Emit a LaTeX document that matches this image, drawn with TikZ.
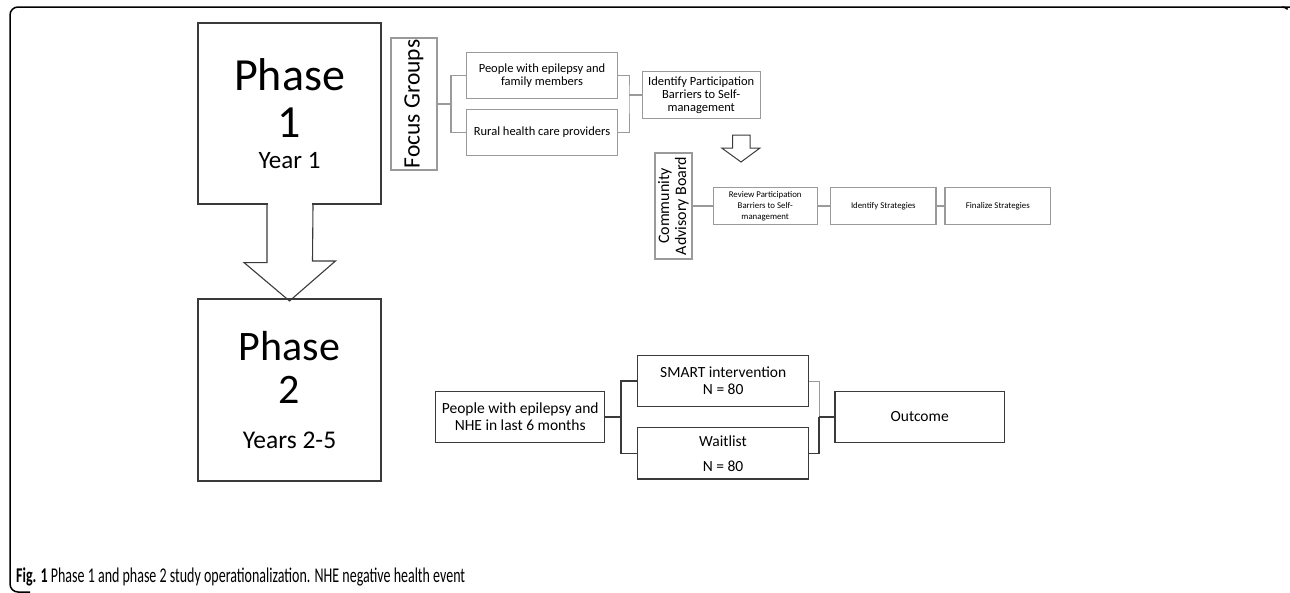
\documentclass[tikz,border=0pt]{standalone}
\usepackage{fontspec}
\setmainfont{Carlito}
\usepackage{tikz}
\usepackage{graphicx}
\usetikzlibrary{arrows}

\definecolor{lightline}{HTML}{9A9A9A}
\definecolor{darkline}{HTML}{3A3A3A}

\begin{document}
\begin{tikzpicture}[x=1pt, y=-1pt,
  phasebox/.style={draw=darkline, line width=1.1pt, inner sep=0pt, minimum width=183pt},
  focusbox/.style={draw=lightline, line width=1.1pt, inner sep=0pt, align=center, font=\fontsize{12.5}{13}\selectfont},
  chainbox/.style={draw=lightline, line width=1.1pt, inner sep=0pt, align=center, minimum height=37.4pt, font=\fontsize{8.8}{11}\selectfont},
  studybox/.style={draw=darkline, line width=1.3pt, inner sep=0pt, align=center, minimum height=51.4pt, font=\fontsize{15.5}{16.7}\selectfont},
  grayline/.style={draw=lightline, line width=1.1pt},
  darkconn/.style={draw=darkline, line width=1.3pt}]
\useasboundingbox (0,0) rectangle (1290,592);
\clip (0,0) rectangle (1290,592);

% frame
\draw[line width=1.5pt] (1310,7) -- (18,7) arc[start angle=90, end angle=180, radius=8pt] -- (10,584)
  arc[start angle=180, end angle=270, radius=8pt] -- (30,592);
\draw[line width=1.5pt] (1282,7) arc[start angle=90, end angle=45, radius=8pt];

% phases
\node[phasebox, minimum height=181pt] (phaseA) at (289.5,113.5) {};
\node[phasebox, minimum height=182pt] (phaseB) at (289.5,390) {};
\node[anchor=base, font=\fontsize{46}{46}\selectfont] (pAt) at (289.5,90) {Phase};
\node[anchor=base, font=\fontsize{46}{46}\selectfont] (pAn) at (289.5,137) {1};
\node[anchor=base, font=\fontsize{25}{25}\selectfont] (pAy) at (289.5,168) {Year 1};
\node[anchor=base, font=\fontsize{42}{42}\selectfont] (pBt) at (289.5,360) {Phase};
\node[anchor=base, font=\fontsize{42}{42}\selectfont] (pBn) at (289.5,403) {2};
\node[anchor=base, font=\fontsize{25.5}{25.5}\selectfont] (pBy) at (289.5,448) {Years 2-5};

\fill[white] (267.6,202) rectangle (312.4,206);
\draw[darkline, line width=1.1pt] ([xshift=-22.5pt]phaseA.south) -- ++(0,58) -- ++(-23,0)
  -- ([yshift=-2.5pt]phaseB.north) -- ++(46,-40) -- ++(-23,0) -- ([xshift=23.5pt]phaseA.south);

% phase 1
\node[focusbox, rotate=90, minimum width=132pt, minimum height=46pt,
  font=\fontsize{23.5}{23.5}\selectfont] (focus) at (414,104) {Focus Groups};
\node[focusbox, minimum width=150.6pt, minimum height=46pt] (famA) at (542,75.3) {People with epilepsy and\\family members};
\node[focusbox, minimum width=150.6pt, minimum height=46pt] (rural) at (542,132.3) {Rural health care providers};
\node[focusbox, minimum width=117.7pt, minimum height=46.6pt] (barrA) at (701.2,95) {Identify Participation\\Barriers to Self-\\management};

\draw[grayline] (focus.south) -- (451,104) coordinate (fj);
\draw[grayline] (famA.west) -| (fj) |- (rural.west);
\coordinate (bj) at (629,95);
\draw[grayline, line width=0.8pt] (famA.east) -| (bj) |- (rural.east);
\draw[grayline] (bj) -- (barrA.west);

\draw[darkline, line width=1pt] (732.7,135) -- (732.7,148) -- (721.7,148) -- (741,162)
  -- (760,148) -- (750,148) -- (750,135) -- cycle;

\node[focusbox, rotate=90, minimum width=106pt, minimum height=37pt,
  font=\fontsize{16}{17}\selectfont] (cab) at (673.5,206) {Community\\Advisory Board};
\node[chainbox, minimum width=104.3pt] (review) at (765.2,206) {Review Participation\\Barriers to Self-\\management};
\node[chainbox, minimum width=105.3pt] (strat) at (883.3,206) {Identify Strategies};
\node[chainbox, minimum width=105.7pt] (final) at (997.8,206) {Finalize Strategies};
\draw[grayline] (cab.south) -- (review.west);
\draw[grayline] (review.east) -- (strat.west);
\draw[grayline] (strat.east) -- (final.west);

% phase 2
\node[studybox, minimum width=169pt] (pwe) at (520.2,417) {People with epilepsy and\\NHE in last 6 months};
\node[studybox, minimum width=171pt] (smart) at (723.2,381) {SMART intervention\\N = 80};
\node[studybox, minimum width=170.5pt, font=\fontsize{15.5}{25}\selectfont] (wait) at (723,453.4) {Waitlist\\N = 80};
\node[studybox, minimum width=169.3pt] (outc) at (919.7,417) {Outcome};

\coordinate (sj) at (621,417);
\draw[darkconn] (pwe.east) -- (sj);
\draw[darkconn] (smart.west) -| (sj) |- (wait.west);
\coordinate (oj) at (819,417);
\draw[grayline, line width=0.8pt] (smart.east) -| (oj);
\draw[darkconn] (oj) |- (wait.east);
\draw[darkconn] (oj) -- (outc.west);

% caption
\node[anchor=base west, inner sep=0pt] (cap) at (16,582.7)
  {\resizebox{449pt}{\height}{\fontsize{21}{24}\selectfont\textbf{Fig. 1} Phase 1 and phase 2 study operationalization. NHE negative health event}};
\end{tikzpicture}
\end{document}
